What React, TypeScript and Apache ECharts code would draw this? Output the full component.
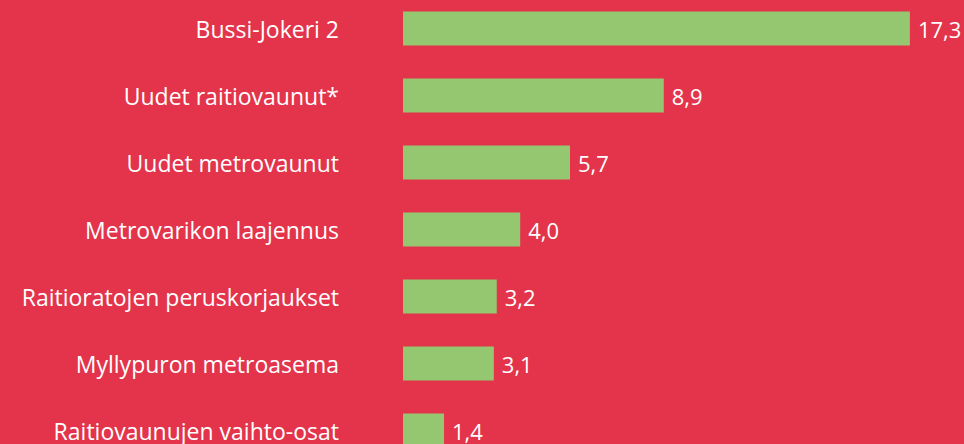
import React, { useEffect, useRef } from "react";
import * as echarts from "echarts";

const categories = [
  "Bussi-Jokeri 2",
  "Uudet raitiovaunut*",
  "Uudet metrovaunut",
  "Metrovarikon laajennus",
  "Raitioratojen peruskorjaukset",
  "Myllypuron metroasema",
  "Raitiovaunujen vaihto-osat",
];
const values = [17.3, 8.9, 5.7, 4.0, 3.2, 3.1, 1.4];

export default function App() {
  const ref = useRef<HTMLDivElement>(null);
  useEffect(() => {
    if (!ref.current) return;
    const chart = echarts.init(ref.current, null, { renderer: "svg" });
    const font = "Open Sans";
    chart.setOption({
      animation: false,
      backgroundColor: "#E3344B",
      grid: {
        left: 403,
        top: 0,
        width: 586,
        bottom: 0,
        containLabel: false,
        outerBoundsMode: "none",
      },
      xAxis: {
        type: "value",
        min: 0,
        max: 20,
        show: false,
      },
      yAxis: {
        type: "category",
        data: categories,
        inverse: true,
        axisLine: { show: false },
        axisTick: { show: false },
        splitLine: { show: false },
        axisLabel: {
          color: "#ffffff",
          fontFamily: font,
          fontSize: 23,
          fontWeight: 500,
          margin: 64,
        },
      },
      series: [
        {
          type: "bar",
          data: values,
          barWidth: 34,
          itemStyle: { color: "#94C76F" },
          label: {
            show: true,
            position: "right",
            distance: 8,
            color: "#ffffff",
            fontFamily: font,
            fontSize: 22,
            fontWeight: 500,
            formatter: (p: any) => p.value.toFixed(1).replace(".", ","),
          },
        },
      ],
    });
    return () => chart.dispose();
  }, []);
  return (
    <div style={{ position: "fixed", left: 0, top: 0, width: 964, height: 444, overflow: "hidden" }}>
      <div
        ref={ref}
        style={{ position: "absolute", left: 0, top: -5.5, width: 964, height: 469 }}
      />
    </div>
  );
}
